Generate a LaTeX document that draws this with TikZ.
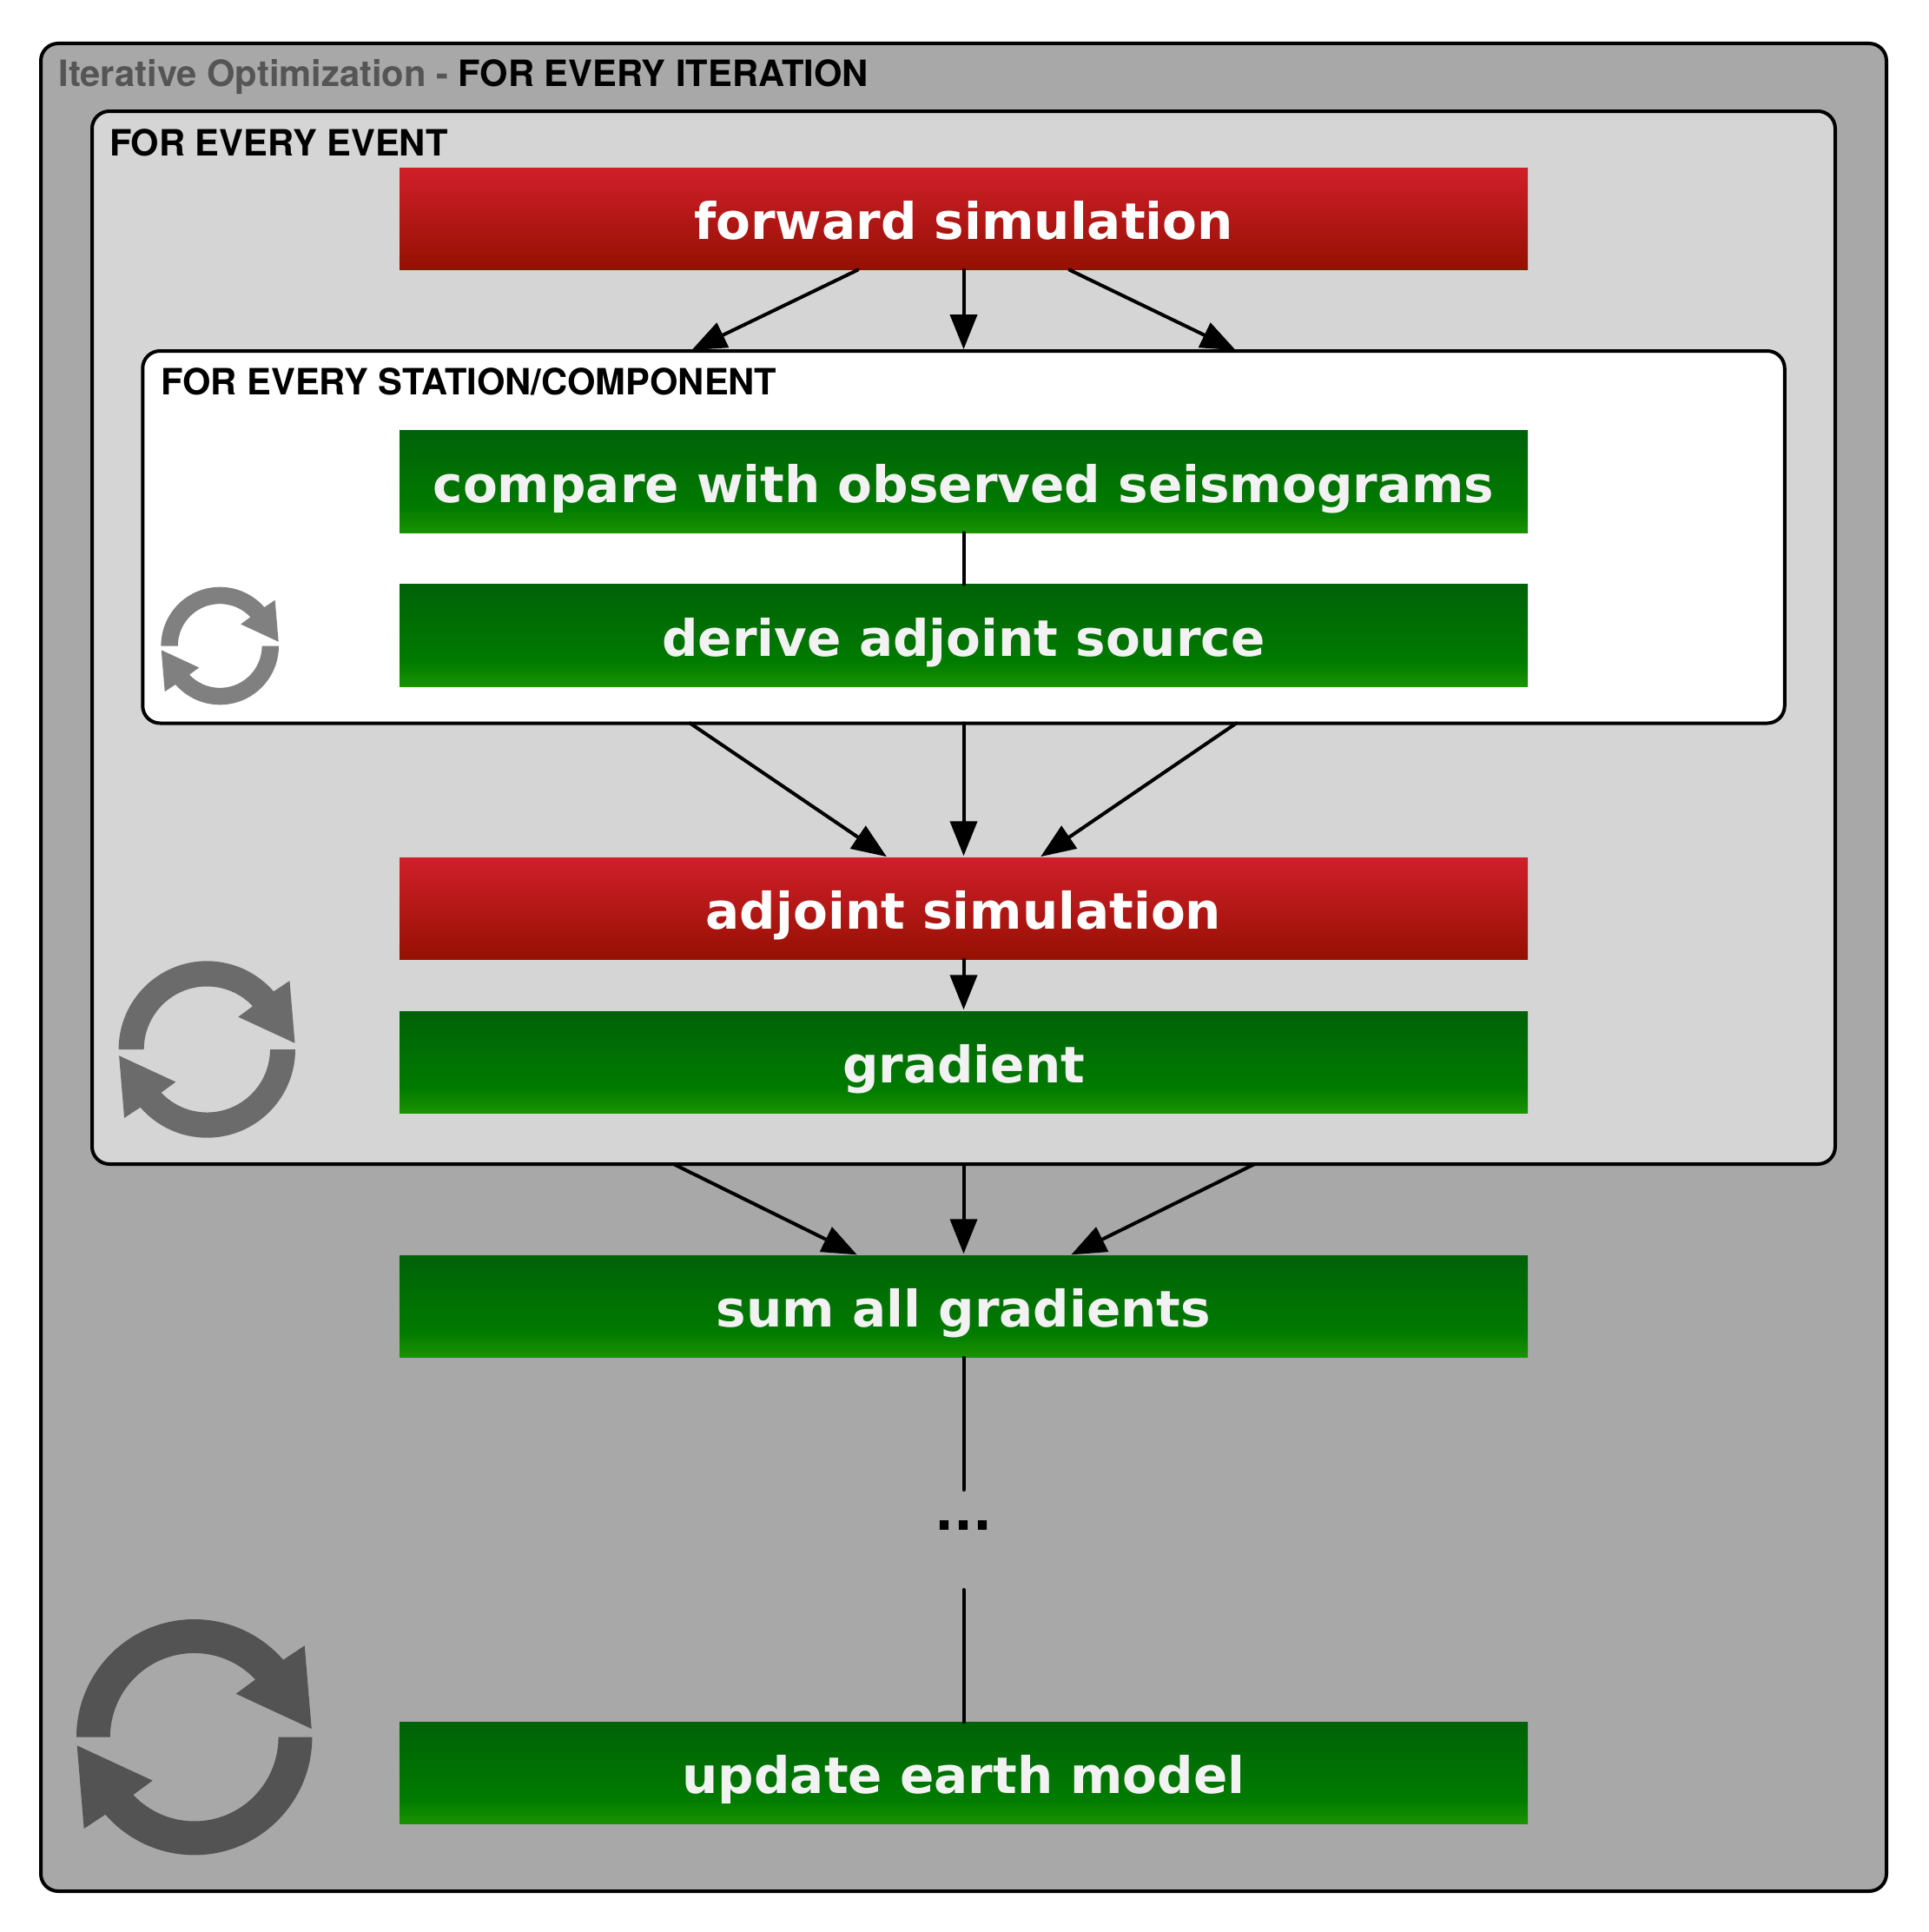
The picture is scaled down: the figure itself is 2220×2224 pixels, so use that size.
\documentclass[tikz,border=0pt]{standalone}
\usepackage{fontspec}
\usetikzlibrary{arrows.meta}
\newfontfamily\boxfont{DejaVu Sans}
\newfontfamily\headfont{TeX Gyre Heros}
\definecolor{outerfill}{HTML}{A8A8A8}
\definecolor{eventfill}{HTML}{D5D5D5}
\definecolor{headgrey}{HTML}{555555}
\definecolor{greentxt}{HTML}{F2F2F2}
\definecolor{gtop}{HTML}{006208}
\definecolor{gmid}{HTML}{007A00}
\definecolor{gbot}{HTML}{1A9300}
\definecolor{rtop}{HTML}{D01F2A}
\definecolor{rbot}{HTML}{951002}
\pgfdeclareverticalshading{greenbar}{100bp}{color(0bp)=(gbot); color(25bp)=(gbot); color(38bp)=(gmid); color(75bp)=(gtop); color(100bp)=(gtop)}
\pgfdeclareverticalshading{redbar}{100bp}{color(0bp)=(rbot); color(25bp)=(rbot); color(75bp)=(rtop); color(100bp)=(rtop)}
\newcommand{\cycleicon}[4]{%
  \foreach \a in {0,180}{%
    \begin{scope}[shift={(#1,#2)},rotate=\a,x=#3pt,y=#3pt]
      \fill[#4] (-1,0) arc[start angle=180,end angle=41,radius=1]
        -- (.936,.776) -- (.995,.071) -- (.354,.368) -- (.518,.489)
        arc[start angle=43.3,end angle=180,radius=.713] -- cycle;
    \end{scope}}}
\tikzset{
  panel/.style={draw=black,line width=4pt,rounded corners=20pt,inner sep=0pt,outer sep=0pt},
  barbox/.style={inner sep=0pt,outer sep=0pt,minimum width=1299pt,minimum height=117.5pt,
    text height=47.5pt,text depth=0pt,font=\boxfont\bfseries\fontsize{58}{60}\selectfont},
  redbox/.style={barbox,shading=redbar,text=white},
  greenbox/.style={barbox,shading=greenbar,text=greentxt},
  heading/.style={anchor=base west,inner sep=0pt,outer sep=0pt,font=\headfont\bfseries\fontsize{41.7}{44}\selectfont},
  arr/.style={line width=4pt,line cap=round,-{Triangle[length=40pt,width=31pt]},shorten >=2pt},
  link/.style={line width=4pt,line cap=round},
}
\begin{document}
\begin{tikzpicture}[x=1pt,y=-1pt]
\useasboundingbox (0,0) rectangle (2220,2224);
% panels
\node[panel,fill=outerfill,minimum width=2125pt,minimum height=2127pt] (outer) at (1109.5,1113.5) {};
\node[panel,fill=eventfill,minimum width=2007pt,minimum height=1212pt] (event) at (1109.5,734) {};
\node[panel,fill=white,minimum width=1890.5pt,minimum height=428.5pt] (station) at (1109.5,618.25) {};
% headings
\node[heading] (h1) at (67.5,99.3) {\textcolor{headgrey}{Iterative Optimization -} FOR EVERY ITERATION};
\node[heading] (h2) at (126,179) {FOR EVERY EVENT};
\node[heading] (h3) at (185.5,454) {FOR EVERY STATION/COMPONENT};
% boxes
\node[redbox] (forward) at (1109.5,252) {forward simulation};
\node[greenbox] (compare) at (1109.5,554.5) {compare with observed seismograms};
\node[greenbox] (derive) at (1109.5,731.5) {derive adjoint source};
\node[redbox] (adjoint) at (1109.5,1046) {adjoint simulation};
\node[greenbox] (gradient) at (1109.5,1223) {gradient};
\node[greenbox] (sum) at (1109.5,1504) {sum all gradients};
\node[greenbox] (update) at (1109.5,2041) {update earth model};
\node[inner sep=0pt,outer sep=0pt,minimum height=115pt,text height=0pt,text depth=23pt,
  font=\boxfont\bfseries\fontsize{58}{60}\selectfont] (dots) at (1109.5,1772.5) {...};
% connectors
\draw[arr] ([xshift=-122pt]forward.south) -- ([xshift=-315pt]station.north);
\draw[arr] (forward.south) -- (station.north);
\draw[arr] ([xshift=122pt]forward.south) -- ([xshift=315pt]station.north);
\draw[link] (compare.south) -- (derive.north);
\draw[arr] ([xshift=-315pt]station.south) -- ([xshift=-87pt]adjoint.north);
\draw[arr] (station.south) -- (adjoint.north);
\draw[arr] ([xshift=314pt]station.south) -- ([xshift=87pt]adjoint.north);
\draw[arr] (adjoint.south) -- (gradient.north);
\draw[arr] ([xshift=-334pt]event.south) -- ([xshift=-121pt]sum.north);
\draw[arr] (event.south) -- (sum.north);
\draw[arr] ([xshift=335pt]event.south) -- ([xshift=122pt]sum.north);
\draw[link] (sum.south) -- (dots.north);
\draw[link] (dots.south) -- (update.north);
% cycle icons
\cycleicon{253.2}{743.5}{67.8}{black!50!white}
\cycleicon{238.3}{1208}{101.7}{black!58!white}
\cycleicon{223.7}{1999.7}{135.7}{black!67.5!white}
\end{tikzpicture}
\end{document}
